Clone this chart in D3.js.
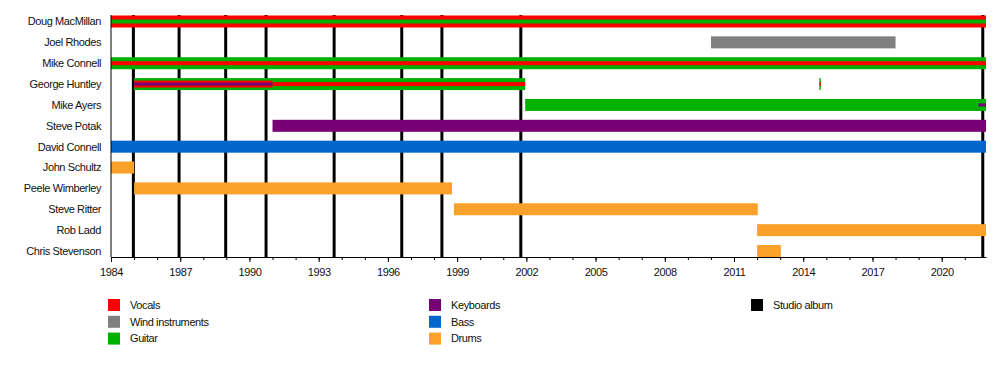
<!DOCTYPE html>
<html>
<head>
<meta charset="utf-8">
<script src="https://cdn.jsdelivr.net/npm/d3@7"></script>
<style>
  body { margin: 0; background: #fff; }
  text { font-family: "Liberation Sans", Arial, sans-serif; font-size: 11px; fill: #111; letter-spacing: -0.4px; }
</style>
</head>
<body>
<div id="chart"></div>
<script>

// members, top to bottom
var members = ["Doug MacMillan", "Joel Rhodes", "Mike Connell", "George Huntley", "Mike Ayers",
  "Steve Potak", "David Connell", "John Schultz", "Peele Wimberley", "Steve Ritter", "Rob Ladd", "Chris Stevenson"];

// instruments and their colours
var instruments = ["Vocals", "Wind instruments", "Guitar", "Keyboards", "Bass", "Drums"];
var instrColors = ["#ff0000", "#808080", "#00b000", "#770077", "#0066cc", "#f9a12a"];

var endDate = 2021.92;

// [member, instrument, start, end, role]  role: main / second / third bar
var spans = [
  ["Doug MacMillan", "Vocals", 1984, endDate, "main"],
  ["Doug MacMillan", "Guitar", 1984, endDate, "second"],
  ["Joel Rhodes", "Wind instruments", 2010, 2018, "main"],
  ["Mike Connell", "Guitar", 1984, endDate, "main"],
  ["Mike Connell", "Vocals", 1984, endDate, "second"],
  ["George Huntley", "Guitar", 1985, 2001.95, "main"],
  ["George Huntley", "Vocals", 1985, 1991, "wide"],
  ["George Huntley", "Vocals", 1991, 2001.95, "second"],
  ["George Huntley", "Keyboards", 1985, 1991, "third"],
  ["George Huntley", "Guitar", 2014.7, 2014.76, "main"],
  ["George Huntley", "Vocals", 2014.7, 2014.76, "second"],
  ["Mike Ayers", "Guitar", 2001.95, endDate, "main"],
  ["Mike Ayers", "Keyboards", 2021.6, endDate, "third"],
  ["Steve Potak", "Keyboards", 1991, endDate, "main"],
  ["David Connell", "Bass", 1984, endDate, "main"],
  ["John Schultz", "Drums", 1984, 1985, "main"],
  ["Peele Wimberley", "Drums", 1985, 1998.78, "main"],
  ["Steve Ritter", "Drums", 1998.86, 2012.03, "main"],
  ["Rob Ladd", "Drums", 2012, endDate, "main"],
  ["Chris Stevenson", "Drums", 2012, 2013.03, "main"]
];

// studio album release dates
var albums = [1984.97, 1986.95, 1988.97, 1990.72, 1993.67, 1996.6, 1998.34, 2001.76, 2021.78];

var majorTicks = [1984, 1987, 1990, 1993, 1996, 1999, 2002, 2005, 2008, 2011, 2014, 2017, 2020];
var minorTicks = d3.range(1984, 2022);

var width = 1000, height = 377;
var plotTop = 15, plotBottom = 257;

var svg = d3.select("#chart").append("svg")
  .attr("width", width)
  .attr("height", height);

var x = d3.scaleLinear().domain([1984, endDate]).range([111, 986]);
var y = d3.scalePoint().domain(members).range([21.5, 251]);
var color = d3.scaleOrdinal().domain(instruments).range(instrColors);
var roleH = { main: 12, wide: 7, second: 4, third: 3 };

// album lines (behind the bars)
svg.selectAll(".album")
  .data(albums)
  .enter().append("line")
  .attr("class", "album")
  .attr("x1", function(d) { return x(d); })
  .attr("x2", function(d) { return x(d); })
  .attr("y1", plotTop)
  .attr("y2", plotBottom)
  .attr("stroke", "#000")
  .attr("stroke-width", 3);

// bars
svg.selectAll(".bar")
  .data(spans)
  .enter().append("rect")
  .attr("class", "bar")
  .attr("x", function(d) { return x(d[2]); })
  .attr("width", function(d) { return Math.max(1, x(d[3]) - x(d[2])); })
  .attr("y", function(d) { return y(d[0]) - roleH[d[4]] / 2; })
  .attr("height", function(d) { return roleH[d[4]]; })
  .attr("fill", function(d) { return color(d[1]); });

// member labels
svg.selectAll(".name")
  .data(members)
  .enter().append("text")
  .attr("class", "name")
  .attr("x", 101)
  .attr("y", function(d) { return y(d); })
  .attr("dy", "0.35em")
  .attr("text-anchor", "end")
  .text(function(d) { return d; });

// left axis line
svg.append("line")
  .attr("x1", 111).attr("x2", 111)
  .attr("y1", plotTop).attr("y2", plotBottom)
  .attr("stroke", "#000");

// x axis: minor ticks then major ticks with labels
svg.append("g")
  .attr("transform", "translate(0," + plotBottom + ")")
  .call(d3.axisBottom(x).tickValues(minorTicks).tickSize(3).tickFormat(""))
  .call(function(g) { g.select(".domain").remove(); });

var xAxis = svg.append("g")
  .attr("transform", "translate(0," + plotBottom + ")")
  .call(d3.axisBottom(x).tickValues(majorTicks).tickSize(5).tickSizeOuter(0).tickFormat(d3.format("d")));
xAxis.select(".domain").attr("stroke", "#000");
xAxis.selectAll("text")
  .attr("y", 11)
  .style("font-family", "\"Liberation Sans\", Arial, sans-serif")
  .style("font-size", "11px")
  .style("letter-spacing", "-0.4px")
  .attr("fill", "#111");

// legend
var legendItems = instruments.map(function(d, i) { return { name: d, color: instrColors[i] }; })
  .concat([{ name: "Studio album", color: "#000" }]);

var legend = svg.selectAll(".legend")
  .data(legendItems)
  .enter().append("g")
  .attr("class", "legend")
  .attr("transform", function(d, i) {
    var col = i < 3 ? 0 : (i < 6 ? 1 : 2);
    var row = i < 6 ? i % 3 : 0;
    var cx = [108, 429, 751][col];
    return "translate(" + cx + "," + (299 + row * 16.8) + ")";
  });

legend.append("rect")
  .attr("width", 12)
  .attr("height", 12)
  .attr("fill", function(d) { return d.color; });

legend.append("text")
  .attr("x", 22)
  .attr("y", 6)
  .attr("dy", "0.35em")
  .text(function(d) { return d.name; });

</script>
</body>
</html>
